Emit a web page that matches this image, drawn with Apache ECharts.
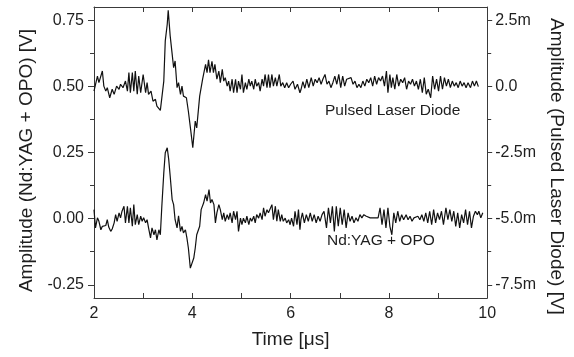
<!DOCTYPE html>
<html>
<head>
<meta charset="utf-8">
<script src="https://cdn.jsdelivr.net/npm/echarts@6/dist/echarts.min.js"></script>
<style>
html,body{margin:0;padding:0;background:#fff;}
#chart{width:574px;height:357px;}
</style>
</head>
<body>
<div id="chart"></div>
<script>
// ---- data ----
// Pulsed Laser Diode trace: time [µs], amplitude [mV] (right axis)
const pldTime = [
2.00,2.07,2.10,2.17,2.20,2.24,2.27,2.32,2.37,2.41,2.46,2.51,2.54,2.59,2.64,2.68,2.71,2.74,2.78,2.81,2.84,2.88,2.91,2.95,3.00,3.05,3.08,3.11,3.16,3.20,3.25,3.28,3.35,3.42,3.45,3.49,3.51,3.55,3.59,3.62,3.65,3.69,3.72,3.76,3.79,3.82,3.88,3.92,3.97,4.01,4.06,4.09,
4.15,4.21,4.27,4.30,4.33,4.36,4.40,4.43,4.46,4.50,4.54,4.57,4.61,4.64,4.67,4.71,4.74,4.77,4.81,4.84,4.88,4.91,4.94,4.98,5.01,5.04,5.08,5.11,5.15,5.18,5.21,5.25,5.28,5.31,5.35,5.38,5.42,5.45,5.48,5.52,5.55,5.58,5.62,5.65,5.69,5.72,5.77,5.80,5.84,5.88,5.92,5.96,6.00,6.05,6.09,6.14,6.19,
6.21,6.25,6.29,6.33,6.37,6.42,6.46,6.50,6.54,6.58,6.62,6.66,6.70,6.74,6.78,6.82,6.86,6.90,6.94,6.98,7.02,7.06,7.10,7.14,7.18,7.23,7.27,7.31,7.35,7.39,7.43,7.47,7.51,7.55,7.59,7.63,7.67,7.71,7.75,7.79,7.83,7.87,7.91,7.95,7.98,8.02,8.05,8.08,8.12,8.16,8.20,8.24,8.28,8.32,8.36,8.40,8.44,8.48,8.52,8.56,8.60,8.64,8.68,8.72,8.76,8.80,8.85,8.89,8.93,8.97,9.01,9.05,9.09,9.13,9.17,9.21,9.25,9.29,9.33,9.37,9.41,9.45,9.49,9.53,9.57,9.61,9.66,9.70,9.74,9.78,9.82
];
const pldMilliVolt = [
-0.18,0.39,0.14,0.58,0.01,-0.18,-0.05,-0.43,-0.11,-0.30,0.01,-0.11,0.08,-0.05,0.20,-0.18,0.52,-0.24,0.52,-0.18,0.58,-0.30,0.39,-0.24,0.45,-0.24,0.14,-0.30,-0.18,-0.56,-0.49,-0.75,-0.91,0.20,1.72,2.35,2.88,1.91,1.84,0.71,0.96,-0.05,0.14,-0.30,0.01,-0.37,-0.43,-0.94,-1.69,-2.32,-1.31,-1.57,
-0.37,0.27,0.83,0.52,1.00,0.52,0.95,0.52,0.83,0.27,0.58,0.14,0.64,0.20,0.33,0.01,0.20,-0.18,0.27,-0.24,0.27,-0.24,0.20,-0.11,0.45,-0.24,0.14,-0.11,0.27,0.01,0.20,-0.11,0.27,0.01,0.14,-0.18,0.27,0.01,0.45,-0.05,0.45,-0.05,0.45,0.01,0.33,0.01,0.45,0.01,0.14,-0.05,0.14,-0.05,0.08,0.20,-0.11,0.08,-0.24,
-0.13,0.18,-0.07,0.27,-0.05,0.33,0.01,0.27,0.14,0.33,0.08,0.29,0.45,0.08,0.20,-0.05,0.14,0.39,0.08,0.45,-0.05,0.39,0.01,0.27,0.20,0.33,0.08,0.20,-0.05,0.08,-0.05,0.20,0.01,0.27,0.14,0.33,0.01,0.39,0.08,0.33,0.20,0.39,0.01,0.58,-0.24,0.45,-0.05,0.33,-0.11,0.45,0.01,0.27,0.14,0.33,-0.11,0.20,0.08,0.27,0.01,0.20,-0.11,0.27,-0.24,0.33,-0.30,-0.11,-0.43,0.39,-0.11,0.27,-0.18,0.39,-0.11,0.33,0.01,0.27,-0.05,0.20,0.01,0.14,-0.05,0.20,0.01,0.14,-0.05,0.14,-0.05,0.20,0.01,0.20,-0.01
];
// Nd:YAG + OPO trace: time [µs], amplitude [V] (left axis)
const ndTime = [
2.00,2.03,2.07,2.10,2.14,2.17,2.20,2.24,2.27,2.30,2.34,2.37,2.41,2.44,2.47,2.51,2.54,2.57,2.61,2.64,2.68,2.71,2.74,2.78,2.81,2.84,2.88,2.91,2.95,2.98,3.01,3.05,3.08,3.11,3.15,3.18,3.22,3.25,3.28,3.32,3.35,3.38,3.42,3.45,3.49,3.52,3.55,3.59,3.62,3.65,3.69,3.72,3.76,3.79,3.82,3.86,3.89,3.92,3.96,3.99,4.03,4.06,4.09,4.15,
4.18,4.23,4.27,4.30,4.34,4.37,4.40,4.44,4.47,4.50,4.54,4.57,4.61,4.64,4.67,4.71,4.74,4.77,4.81,4.84,4.88,4.91,4.94,4.98,5.01,5.04,5.08,5.11,5.15,5.18,5.21,5.25,5.28,5.31,5.35,5.38,5.42,5.45,5.48,5.52,5.55,5.58,5.62,5.65,5.69,5.72,5.75,5.79,5.82,5.85,5.89,5.92,5.96,5.99,6.02,6.06,6.09,6.13,6.16,6.19,
6.21,6.24,6.28,6.32,6.36,6.40,6.44,6.48,6.52,6.56,6.60,6.64,6.68,6.73,6.77,6.81,6.85,6.89,6.93,6.97,7.01,7.05,7.09,7.13,7.17,7.21,7.25,7.29,7.33,7.37,7.41,7.45,7.49,7.54,7.58,7.62,7.66,7.70,7.74,7.78,7.82,7.86,7.90,7.94,7.98,8.02,8.06,8.10,8.14,8.18,8.22,8.26,8.30,8.35,8.39,8.43,8.47,8.51,8.55,8.59,8.63,8.67,8.71,8.75,8.79,8.83,8.87,8.91,8.95,8.99,9.03,9.07,9.11,9.16,9.20,9.24,9.28,9.32,9.36,9.40,9.44,9.48,9.52,9.56,9.60,9.64,9.68,9.72,9.76,9.80,9.83,9.87,9.91
];
const ndVolt = [
0.034,-0.035,0.003,-0.010,-0.042,-0.029,-0.035,-0.026,-0.004,-0.032,-0.048,-0.039,-0.016,0.015,-0.010,0.022,0.003,0.028,0.047,-0.016,0.047,-0.016,0.041,-0.029,0.053,-0.023,0.015,-0.023,0.009,-0.010,0.003,-0.016,-0.004,-0.035,-0.073,-0.035,-0.061,-0.042,-0.080,-0.042,-0.061,0.047,0.173,0.249,0.268,0.224,0.161,0.072,0.053,-0.004,-0.035,0.011,-0.048,-0.029,-0.054,-0.042,-0.073,-0.111,-0.187,-0.193,-0.149,-0.111,-0.061,-0.029,
0.034,0.059,0.091,0.066,0.110,0.059,0.072,0.053,-0.016,0.022,0.053,0.034,-0.004,0.022,-0.010,0.015,-0.004,0.022,-0.016,0.028,-0.004,0.028,-0.048,0.002,-0.023,0.002,-0.016,0.009,-0.023,0.002,-0.010,0.009,-0.016,0.015,0.002,0.022,-0.004,0.041,0.009,0.034,0.022,0.028,0.053,-0.004,0.047,-0.010,0.034,-0.010,0.015,-0.010,0.002,-0.016,-0.004,-0.023,0.002,-0.029,0.028,-0.023,0.034,-0.042,
-0.004,0.022,-0.016,0.015,-0.010,0.022,-0.010,0.015,-0.016,0.009,-0.010,0.015,0.028,-0.035,0.041,-0.016,0.047,-0.048,0.047,-0.029,0.041,-0.023,0.034,-0.035,0.022,-0.010,0.009,-0.016,0.003,-0.010,0.015,0.003,0.015,0.009,0.015,0.003,0.009,0.003,0.009,0.003,0.041,-0.023,0.034,-0.035,0.041,-0.029,-0.061,0.022,-0.016,0.028,-0.010,0.015,-0.004,0.015,-0.004,0.009,-0.010,0.003,-0.004,0.009,-0.004,0.015,-0.010,0.022,-0.016,0.028,-0.023,0.034,-0.016,0.022,-0.004,0.028,-0.023,0.041,-0.004,0.034,-0.010,0.028,-0.029,0.022,-0.035,0.015,-0.016,0.034,-0.023,0.028,-0.035,0.009,0.028,0.015,0.028,0.003,0.022
];
// tick labels / tick positions
const xTickValues = [2,3,4,5,6,7,8,9,10];
const xTickLabels = [2,4,6,8,10];
const leftTickLabels = [-0.25,0,0.25,0.5,0.75];
const leftMinorTicks = [-0.125,0.125,0.375,0.625];
const rightTickLabels = [-7.5,-5,-2.5,0,2.5];      // mV
const rightMinorTicks = [-6.25,-3.75,-1.25,1.25];  // mV

// ---- chart ----
const FONT = 'Liberation Sans, Arial, Helvetica, sans-serif';
const TXT = '#1e1e1e';
const AX = '#3a3a3a';

const pldData = pldTime.map((t, i) => [t, pldMilliVolt[i]]);
const ndData = ndTime.map((t, i) => [t, ndVolt[i]]);

const chart = echarts.init(document.getElementById('chart'), null, {renderer: 'canvas'});
const axisLine = {show: true, onZero: false, lineStyle: {color: AX, width: 1}};
const noLine = {show: false, onZero: false};
chart.setOption({
  animation: false,
  backgroundColor: '#ffffff',
  textStyle: {fontFamily: FONT},
  grid: {left: 94, right: 85, top: 7, bottom: 59},
  xAxis: [
    {
      type: 'value', min: 2, max: 10, position: 'bottom',
      axisLine: axisLine,
      axisTick: {show: true, inside: true, length: 5, customValues: xTickValues, lineStyle: {color: AX}},
      axisLabel: {customValues: xTickLabels, fontSize: 16, color: TXT, margin: 8, fontFamily: FONT},
      splitLine: {show: false},
      name: 'Time [\u03bcs]', nameLocation: 'middle', nameGap: 32,
      nameTextStyle: {fontSize: 19, color: TXT, fontFamily: FONT}
    },
    {
      type: 'value', min: 2, max: 10, position: 'top',
      axisLine: axisLine,
      axisTick: {show: true, inside: true, length: 5, customValues: xTickValues, lineStyle: {color: AX}},
      axisLabel: {show: false},
      splitLine: {show: false}
    }
  ],
  yAxis: [
    {
      type: 'value', min: -0.3, max: 0.8, position: 'left',
      axisLine: axisLine,
      axisTick: {show: true, inside: false, length: 6, customValues: leftTickLabels, lineStyle: {color: AX}},
      axisLabel: {customValues: leftTickLabels, fontSize: 16, color: TXT, margin: 10, fontFamily: FONT,
        formatter: v => Number(v).toFixed(2)},
      splitLine: {show: false},
      name: 'Amplitude (Nd:YAG + OPO) [V]', nameLocation: 'middle', nameGap: 57, nameRotate: 90,
      nameTextStyle: {fontSize: 19, color: TXT, fontFamily: FONT, padding: [0, 16, 0, 0]}
    },
    {
      type: 'value', min: -8, max: 3, position: 'right',
      axisLine: axisLine,
      axisTick: {show: true, inside: false, length: 5, customValues: rightTickLabels, lineStyle: {color: AX}},
      axisLabel: {customValues: rightTickLabels, fontSize: 16, color: TXT, margin: 8, fontFamily: FONT,
        formatter: v => (Math.abs(v) < 1e-9 ? '0.0' : Number(v).toFixed(1) + 'm')},
      splitLine: {show: false},
      name: 'Amplitude (Pulsed Laser Diode) [V]', nameLocation: 'middle', nameGap: 57, nameRotate: -90,
      nameTextStyle: {fontSize: 19, color: TXT, fontFamily: FONT, padding: [0, 0, 0, 28]}
    },
    {
      type: 'value', min: -0.3, max: 0.8, position: 'left',
      axisLine: noLine,
      axisTick: {show: true, inside: false, length: 4, customValues: leftMinorTicks, lineStyle: {color: AX}},
      axisLabel: {show: false}, splitLine: {show: false}
    },
    {
      type: 'value', min: -8, max: 3, position: 'right',
      axisLine: noLine,
      axisTick: {show: true, inside: false, length: 4, customValues: rightMinorTicks, lineStyle: {color: AX}},
      axisLabel: {show: false}, splitLine: {show: false}
    }
  ],
  graphic: [
    {type: 'text', left: 325, top: 103, silent: true,
      style: {text: 'Pulsed Laser Diode', font: '15.5px ' + FONT, fill: TXT}},
    {type: 'text', left: 327, top: 233, silent: true,
      style: {text: 'Nd:YAG + OPO', font: '15.5px ' + FONT, fill: TXT}}
  ],
  series: [
    {
      name: 'Pulsed Laser Diode', type: 'line', xAxisIndex: 0, yAxisIndex: 1,
      data: pldData, showSymbol: false, symbol: 'none', smooth: false,
      lineStyle: {color: '#111', width: 1.2}
    },
    {
      name: 'Nd:YAG + OPO', type: 'line', xAxisIndex: 0, yAxisIndex: 0,
      data: ndData, showSymbol: false, symbol: 'none', smooth: false,
      lineStyle: {color: '#111', width: 1.2}
    }
  ]
});
</script>
</body>
</html>
